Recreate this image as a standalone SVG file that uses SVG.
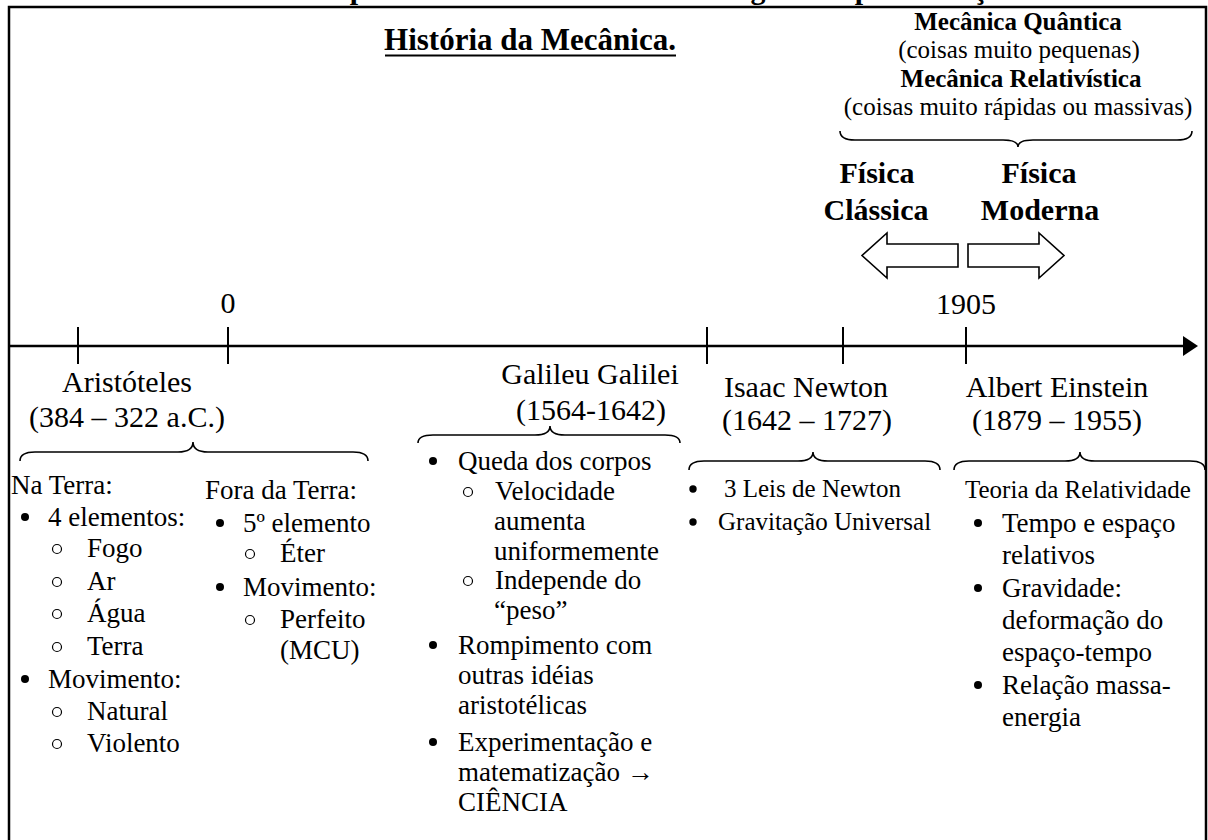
<svg xmlns="http://www.w3.org/2000/svg" width="1208" height="840" viewBox="0 0 1208 840">
<style>
text{font-family:"Liberation Serif","Times New Roman",serif;fill:#000}
.h{font-size:30px}
.b{font-size:27px}
.s{font-size:25px}
.bold{font-weight:bold}
.c{text-anchor:middle}
.ln{stroke:#000;fill:none}
.brace{stroke:#000;stroke-width:1.6;fill:none}
.dot{fill:#000}
.ring{fill:none;stroke:#000;stroke-width:1.2}
.blk{fill:#fff;stroke:#000;stroke-width:1.6}
</style>
<rect width="1208" height="840" fill="#fff"/>
<g id="clipped-title">
<text class="bold c" style="font-size:30px" x="358" y="-1">p</text>
<text class="bold c" style="font-size:30px" x="758" y="-1">g</text>
<text class="bold c" style="font-size:30px" x="863" y="-1">p</text>
<text class="bold c" style="font-size:30px" x="980" y="-1">ç</text>
</g>
<path id="frame" class="ln" stroke-width="2.5" d="M9,845 V7 H1206 V845"/>
<g id="title">
<text class="bold c" style="font-size:31px" x="530" y="50">História da Mecânica.</text>
<line class="ln" stroke-width="2" x1="385" y1="55.5" x2="676" y2="55.5"/>
</g>
<g id="modern-branches">
<text class="bold c" style="font-size:25px" x="1018" y="30">Mecânica Quântica</text>
<text class="c" style="font-size:25px" x="1019" y="58">(coisas muito pequenas)</text>
<text class="bold c" style="font-size:25px" x="1021" y="87">Mecânica Relativística</text>
<text class="c" style="font-size:25px" x="1018" y="115">(coisas muito rápidas ou massivas)</text>
</g>
<g id="classica">
<text class="h bold c" x="877" y="183">Física</text>
<text class="h bold c" x="876" y="220">Clássica</text>
</g>
<g id="moderna">
<text class="h bold c" x="1039" y="183">Física</text>
<text class="h bold c" x="1040" y="220">Moderna</text>
</g>
<g id="labels">
<text class="h c" x="228" y="313">0</text>
<text class="h c" x="966" y="314">1905</text>
</g>
<g id="connectors">
<path class="brace" d="M840,131 Q840,140 855,140 L1003,140 Q1018,140 1018,147 Q1018,140 1033,140 L1177,140 Q1192,140 1192,131"/>
<polygon class="blk" points="958,244 887,244 887,233 862,255.5 887,278 887,267 958,267"/>
<polygon class="blk" points="968,244 1039,244 1039,233 1064,255.5 1039,278 1039,267 968,267"/>
<line class="ln" stroke-width="2.5" x1="9" y1="346" x2="1186" y2="346"/>
<polygon points="1183,336 1198,346 1183,356" fill="#000"/>
<g class="ln" stroke-width="2">
<line x1="78" y1="327" x2="78" y2="364"/>
<line x1="228" y1="327" x2="228" y2="364"/>
<line x1="707" y1="327" x2="707" y2="364"/>
<line x1="843" y1="327" x2="843" y2="364"/>
<line x1="966" y1="327" x2="966" y2="364"/>
</g>
<path class="brace" d="M20,461 Q20,452 35,452 L178,452 Q193,452 193,442 Q193,452 208,452 L353,452 Q368,452 368,461"/>
<path class="brace" d="M418,443 Q418,435 433,435 L535,435 Q550,435 550,426 Q550,435 565,435 L665,435 Q680,435 680,443"/>
<path class="brace" d="M689,470 Q689,461 704,461 L798,461 Q813,461 813,452 Q813,461 828,461 L925,461 Q940,461 940,470"/>
<path class="brace" d="M954,470 Q954,461 969,461 L1065,461 Q1080,461 1080,452 Q1080,461 1095,461 L1190,461 Q1205,461 1205,470"/>
</g>
<g id="aristoteles">
<text class="h c" x="127" y="392">Aristóteles</text>
<text class="h c" x="127" y="427">(384 – 322 a.C.)</text>
<text class="b" x="11" y="494">Na Terra:</text>
<circle class="dot" cx="25" cy="517" r="4"/><text class="b" x="48" y="526">4 elementos:</text>
<circle class="ring" cx="57" cy="549" r="4.5"/><text class="b" x="87" y="557">Fogo</text>
<circle class="ring" cx="57" cy="582" r="4.5"/><text class="b" x="87" y="590">Ar</text>
<circle class="ring" cx="57" cy="614" r="4.5"/><text class="b" x="87" y="622">Água</text>
<circle class="ring" cx="57" cy="647" r="4.5"/><text class="b" x="87" y="655">Terra</text>
<circle class="dot" cx="25" cy="679" r="4"/><text class="b" x="48" y="688">Movimento:</text>
<circle class="ring" cx="57" cy="712" r="4.5"/><text class="b" x="87" y="720">Natural</text>
<circle class="ring" cx="57" cy="744" r="4.5"/><text class="b" x="87" y="752">Violento</text>
<text class="b" x="205" y="499">Fora da Terra:</text>
<circle class="dot" cx="220" cy="523" r="4"/><text class="b" x="243" y="532">5º elemento</text>
<circle class="ring" cx="250" cy="554" r="4.5"/><text class="b" x="280" y="562">Éter</text>
<circle class="dot" cx="220" cy="587" r="4"/><text class="b" x="243" y="596">Movimento:</text>
<circle class="ring" cx="250" cy="620" r="4.5"/><text class="b" x="280" y="628">Perfeito</text>
<text class="b" x="280" y="659">(MCU)</text>
</g>
<g id="galileu">
<text class="h c" x="590" y="384">Galileu Galilei</text>
<text class="h c" x="591" y="420">(1564-1642)</text>
<circle class="dot" cx="433" cy="461" r="4"/><text class="b" x="458" y="470">Queda dos corpos</text>
<circle class="ring" cx="468" cy="492" r="4.5"/><text class="b" x="495" y="500">Velocidade</text>
<text class="b" x="494" y="530">aumenta</text>
<text class="b" x="494" y="560">uniformemente</text>
<circle class="ring" cx="468" cy="581" r="4.5"/><text class="b" x="495" y="589">Independe do</text>
<text class="b" x="494" y="619">“peso”</text>
<circle class="dot" cx="433" cy="645" r="4"/><text class="b" x="458" y="654">Rompimento com</text>
<text class="b" x="458" y="684">outras idéias</text>
<text class="b" x="458" y="714">aristotélicas</text>
<circle class="dot" cx="433" cy="742" r="4"/><text class="b" x="458" y="751">Experimentação e</text>
<text class="b" x="458" y="781">matematização <tspan font-weight="bold">→</tspan></text>
<text class="b" x="458" y="811">CIÊNCIA</text>
</g>
<g id="newton">
<text class="h c" x="806" y="397">Isaac Newton</text>
<text class="h c" x="807" y="430">(1642 – 1727)</text>
<circle class="dot" cx="693" cy="489" r="3.7"/><text class="s" x="724" y="497">3 Leis de Newton</text>
<circle class="dot" cx="693" cy="522" r="3.7"/><text class="s" x="718" y="530">Gravitação Universal</text>
</g>
<g id="einstein">
<text class="h c" x="1057" y="397">Albert Einstein</text>
<text class="h c" x="1057" y="430">(1879 – 1955)</text>
<text class="s" x="965" y="498">Teoria da Relatividade</text>
<circle class="dot" cx="978" cy="523" r="4"/><text class="b" x="1002" y="532">Tempo e espaço</text>
<text class="b" x="1002" y="564">relativos</text>
<circle class="dot" cx="978" cy="588" r="4"/><text class="b" x="1002" y="597">Gravidade:</text>
<text class="b" x="1002" y="629">deformação do</text>
<text class="b" x="1002" y="661">espaço-tempo</text>
<circle class="dot" cx="978" cy="685" r="4"/><text class="b" x="1002" y="694">Relação massa-</text>
<text class="b" x="1002" y="726">energia</text>
</g>
</svg>
